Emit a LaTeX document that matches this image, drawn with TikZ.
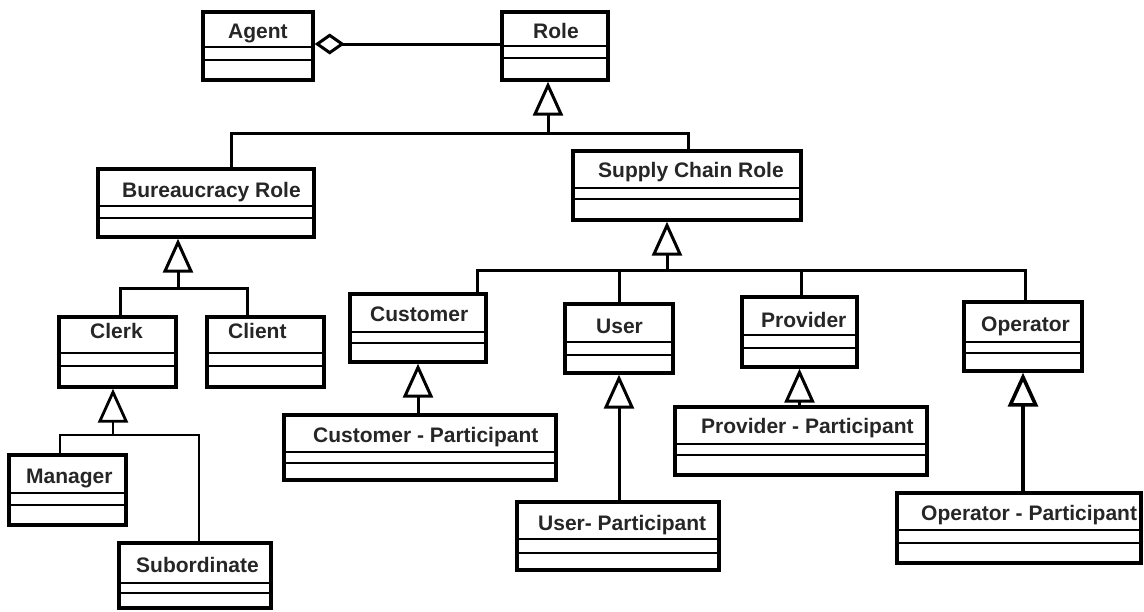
\documentclass[tikz,border=0pt]{standalone}
\usepackage{fontspec}
\setmainfont{Liberation Sans}
\usetikzlibrary{arrows.meta}
\tikzset{
  cls/.style={draw=black, line width=3.4pt, rectangle, inner sep=0pt, fill=white},
  sep/.style={draw=black, line width=2.6pt},
  lbl/.style={inner sep=0pt, anchor=base west, text=black!85, font=\bfseries\fontsize{21}{25}\selectfont},
  conn/.style={draw=black, line width=3pt},
  thinconn/.style={draw=black, line width=2.2pt},
  gen/.style={conn, -{Triangle[open, length=34pt, width=30pt]}},
  thingen/.style={thinconn, -{Triangle[open, length=34pt, width=30pt, line width=2.8pt]}},
  agg/.style={conn, -{Diamond[open, length=30pt, width=21pt]}}
}
\newcommand\umlbox[7]{%
  \node[cls, minimum width={#4-#2}, minimum height={#5-#3}] (#1) at ({(#2+#4)/2},{(#3+#5)/2}) {};
  \draw[sep] (#2,#6) -- (#4,#6);
  \draw[sep] (#2,#7) -- (#4,#7);
}
\begin{document}
\begin{tikzpicture}[x=1pt, y=-1pt]
\useasboundingbox (0,0) rectangle (1144,611);
% boxes
\umlbox{agent}{203}{12}{313}{80}{47}{60}
\umlbox{role}{502}{12}{608}{80}{46}{58}
\umlbox{bur}{98}{169}{314}{237}{206}{218}
\umlbox{scr}{573}{151}{801}{220}{188}{199}
\umlbox{clerk}{59}{317}{176}{387}{353}{366}
\umlbox{client}{207}{317}{324}{387}{353}{366}
\umlbox{manager}{9}{455}{126}{525}{493}{505}
\umlbox{subord}{119}{543}{271}{608}{583}{593}
\umlbox{cust}{350}{294}{486}{362}{332}{343}
\umlbox{custp}{284}{415}{556}{480}{452}{463}
\umlbox{user}{565}{304}{673}{373}{342}{355}
\umlbox{userp}{517}{502}{719}{570}{539}{553}
\umlbox{prov}{742}{297}{857}{367}{335}{348}
\umlbox{provp}{675}{407}{927}{475}{444}{455}
\umlbox{oper}{964}{302}{1082}{371}{342}{353}
\umlbox{operp}{897}{493}{1141}{563}{530}{543}
% labels
\node[lbl] (agentl) at (228,38) {Agent};
\node[lbl] (rolel) at (533,38) {Role};
\node[lbl] (burl) at (122,197) {Bureaucracy Role};
\node[lbl] (scrl) at (598,177) {Supply Chain Role};
\node[lbl] (clerkl) at (90,338) {Clerk};
\node[lbl] (clientl) at (228,338) {Client};
\node[lbl] (managerl) at (26,483) {Manager};
\node[lbl] (subordl) at (136,572) {Subordinate};
\node[lbl] (custl) at (370,321) {Customer};
\node[lbl] (custpl) at (313,442) {Customer - Participant};
\node[lbl] (userl) at (596,333) {User};
\node[lbl] (userpl) at (538,530) {User- Participant};
\node[lbl] (provl) at (761,327) {Provider};
\node[lbl] (provpl) at (701,433) {Provider - Participant};
\node[lbl] (operl) at (981,331) {Operator};
\node[lbl] (operpl) at (921,520) {Operator - Participant};
% aggregation
\draw[agg] (role.west |- 0,44) -- (agent.east |- 0,44);
% Role generalization
\coordinate (j1) at (548,133);
\coordinate (b1) at (231,133);
\coordinate (b2) at (688,133);
\draw[conn] (b1 |- bur.north) -- (b1) -- (b2) -- (b2 |- scr.north);
\draw[gen] (j1) -- (j1 |- role.south);
% Bureaucracy generalization
\coordinate (j2) at (178,288);
\coordinate (c1) at (120,288);
\coordinate (c2) at (247,288);
\draw[conn] (c1 |- clerk.north) -- (c1) -- (c2) -- (c2 |- client.north);
\draw[gen] (j2) -- (j2 |- bur.south);
% Clerk generalization
\coordinate (j3) at (113,435);
\coordinate (m1) at (60,435);
\coordinate (m2) at (199,435);
\draw[thinconn] (m1 |- manager.north) -- (m1) -- (m2) -- (m2 |- subord.north);
\draw[thingen] (j3) -- (j3 |- clerk.south);
% Supply chain generalization
\coordinate (j4) at (667,270);
\coordinate (s1) at (477,270);
\coordinate (s2) at (619,270);
\coordinate (s3) at (801,270);
\coordinate (s4) at (1025,270);
\draw[conn] (s1 |- cust.north) -- (s1) -- (s4) -- (s4 |- oper.north);
\draw[conn] (s2) -- (s2 |- user.north);
\draw[conn] (s3) -- (s3 |- prov.north);
\draw[gen] (j4) -- (j4 |- scr.south);
% participants
\draw[gen] (cust.south |- custp.north) -- (cust.south);
\draw[gen] (user.south |- userp.north) -- (user.south);
\draw[gen] (prov.south |- provp.north) -- (prov.south);
\draw[gen, line width=3.6pt] (oper.south |- operp.north) -- (oper.south);
\end{tikzpicture}
\end{document}
